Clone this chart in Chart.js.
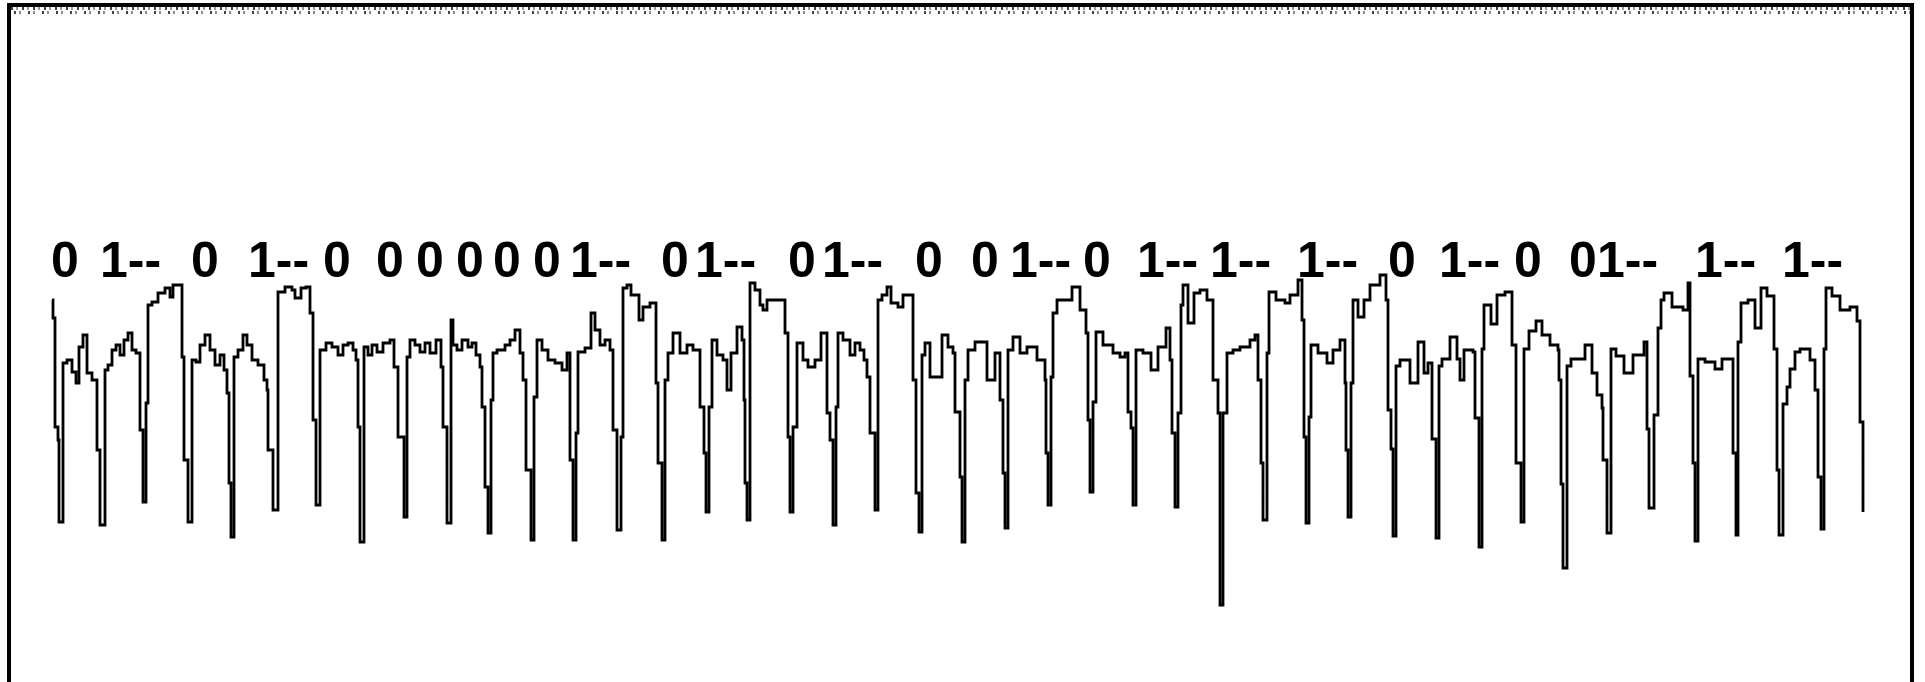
<!DOCTYPE html>
<html>
<head>
<meta charset="utf-8">
<script src="https://cdn.jsdelivr.net/npm/chart.js@4"></script>
<style>
  body { margin: 0; background: #fff; overflow: hidden; }
  #wrap { position: relative; width: 1925px; height: 682px; }
  #chart { position: absolute; left: 0; top: 0; }
  .frame {
    position: absolute; left: 7px; top: 3px; width: 1899px; height: 700px;
    border: 4px solid #000; border-bottom: none;
  }
  .noise {
    position: absolute; left: 11px; top: 7px; width: 1899px; height: 8px;
    background:
      repeating-linear-gradient(90deg, rgba(30,30,30,.85) 0 2px, transparent 2px 5px, rgba(110,110,110,.7) 5px 7px, transparent 7px 11px) 0 0 / 100% 3px no-repeat,
      repeating-linear-gradient(90deg, transparent 0 3px, rgba(20,20,20,.8) 3px 5px, transparent 5px 8px, rgba(90,90,90,.7) 8px 10px, transparent 10px 14px) 0 4px / 100% 3px no-repeat;
  }
</style>
</head>
<body>
<div id="wrap">
  <canvas id="chart" width="1925" height="682"></canvas>
  <div class="frame"></div>
  <div class="noise"></div>
</div>
<script>
// signal trace: sample index and current level (step values)
const time = [
  0, 1, 3, 6, 7, 11, 15, 20, 24, 27, 31, 35, 40,
  45, 48, 53, 56, 60, 64, 68, 72, 76, 80, 84,
  88, 91, 94, 96, 100, 106, 113, 118, 121,
  130, 132, 136, 140, 144, 148, 153, 158, 163, 168, 172, 175,
  177, 179, 182, 186, 191, 195, 200, 206, 212, 215,
  216, 221, 226, 233, 240, 243, 249, 254, 258,
  261, 264, 268, 274, 280, 286, 291, 296, 301, 304,
  306, 308, 312, 316, 320, 325, 331, 338, 342,
  346, 352, 355, 358, 363, 368, 373, 378, 384, 389,
  391, 395, 399, 401, 405, 410, 416, 420, 424, 428,
  430, 433, 436, 439, 441, 445, 453, 458, 463, 468, 471,
  474, 479, 482, 485, 490, 496, 503, 510, 515,
  518, 521, 524, 526, 533, 539, 543, 548, 553, 558,
  561, 565, 569, 571, 575, 579, 587, 591, 598, 604,
  606, 610, 613, 616, 621, 628, 635, 641, 648,
  652, 654, 657, 660, 665, 671, 675, 679, 685, 690, 692,
  693, 695, 698, 703, 708, 711, 715, 733, 736,
  738, 741, 745, 751, 756, 763, 769, 775, 778,
  781, 784, 786, 791, 798, 803, 808, 812, 815, 818,
  823, 826, 830, 835, 839, 846, 851, 861, 864,
  867, 870, 873, 878, 890, 896, 901, 903, 908,
  910, 913, 916, 923, 935, 943, 948, 951,
  953, 956, 961, 968, 975, 985, 993, 994,
  996, 999, 1001, 1005, 1020, 1028, 1034, 1036,
  1038, 1041, 1044, 1051, 1061, 1068, 1073, 1076, 1079,
  1081, 1084, 1091, 1099, 1106, 1114, 1118, 1120,
  1123, 1126, 1129, 1131, 1136, 1142, 1148, 1155, 1161, 1166,
  1168, 1171, 1175, 1181, 1188, 1198, 1203, 1206, 1209,
  1211, 1215, 1217, 1224, 1233, 1238, 1246, 1250, 1252,
  1254, 1257, 1259, 1266, 1275, 1281, 1288, 1293, 1294,
  1296, 1299, 1301, 1306, 1312, 1318, 1328, 1334, 1336, 1339,
  1341, 1344, 1348, 1358, 1366, 1372, 1376, 1380,
  1384, 1387, 1390, 1398, 1405, 1408, 1412, 1421, 1423,
  1427, 1430, 1432, 1439, 1445, 1453, 1460, 1464,
  1469, 1472, 1477, 1484, 1490, 1498, 1506, 1507, 1509,
  1511, 1515, 1519, 1533, 1540, 1545, 1550, 1551,
  1555, 1559, 1564, 1572, 1581, 1592, 1595,
  1597, 1602, 1606, 1609, 1612, 1620, 1631, 1636, 1638, 1641,
  1643, 1646, 1653, 1663, 1670, 1681,
  1684, 1686, 1689, 1696, 1703, 1709, 1715, 1722, 1725,
  1727, 1731, 1735, 1738, 1743, 1748, 1758, 1763, 1766,
  1769, 1772, 1774, 1780, 1788, 1798, 1805, 1808, 1811
];
const current = [
  300, 282, 173, 160, 78, 237, 240, 228, 217, 253, 265, 227, 220,
  150, 75, 230, 235, 250, 255, 245, 260, 267, 250, 247,
  170, 98, 197, 295, 298, 307, 312, 303, 315,
  243, 140, 78, 240, 238, 255, 265, 250, 235, 245, 230, 207,
  117, 63, 243, 250, 265, 255, 240, 235, 220, 210,
  150, 90, 308, 313, 310, 302, 312, 313, 287,
  180, 95, 250, 257, 253, 245, 255, 257, 250, 240,
  173, 58, 253, 245, 255, 248, 257, 260, 233,
  163, 83, 243, 260, 255, 248, 257, 247, 260, 233,
  173, 77, 280, 255, 250, 260, 253, 257, 245, 233,
  193, 113, 67, 200, 247, 250, 255, 260, 270, 247, 220,
  130, 60, 203, 260, 250, 240, 237, 230, 247,
  140, 60, 167, 248, 252, 287, 270, 255, 260, 250,
  170, 70, 163, 312, 315, 305, 280, 293, 297, 217,
  137, 60, 220, 247, 267, 247, 255, 250, 193,
  147, 88, 193, 260, 245, 240, 210, 247, 273, 260, 200,
  117, 80, 317, 310, 295, 290, 300, 267, 163,
  88, 173, 257, 240, 233, 240, 267, 187, 160,
  75, 193, 267, 260, 245, 257, 250, 240, 223, 167,
  90, 300, 305, 313, 297, 293, 305, 220, 107,
  68, 245, 257, 223, 265, 253, 247, 188, 123,
  58, 220, 250, 258, 220, 247, 200, 127,
  72, 250, 263, 247, 253, 240, 220, 147,
  95, 223, 287, 300, 313, 290, 267, 180,
  108, 198, 268, 255, 247, 243, 247, 188, 172,
  95, 250, 247, 230, 253, 272, 240, 167,
  93, 187, 295, 315, 277, 307, 310, 300, 220, 187,
  -5, 187, 247, 250, 253, 260, 265, 220, 137,
  80, 247, 308, 300, 297, 305, 320, 280, 163,
  77, 183, 255, 247, 237, 250, 260, 217, 150,
  83, 217, 300, 283, 300, 315, 325, 300, 190, 151,
  64, 234, 240, 217, 258, 227, 237, 161,
  62, 234, 241, 263, 241, 220, 250, 248, 182,
  53, 251, 295, 276, 305, 308, 255, 137,
  78, 251, 269, 279, 265, 255, 250, 220, 116,
  32, 234, 241, 255, 227, 205, 192, 140,
  67, 251, 244, 227, 245, 258, 171,
  92, 185, 272, 300, 307, 293, 290, 317, 224, 137,
  59, 241, 238, 231, 241, 147,
  65, 258, 297, 300, 272, 312, 304, 251, 130,
  65, 196, 213, 231, 248, 251, 240, 210, 123,
  71, 251, 312, 304, 290, 293, 279, 178, 88
];

// annotation tokens above the trace and where they start
const tokens = [
  "0", "1--", "0", "1--", "0", "0", "0", "0", "0", "0",
  "1--", "0", "1--", "0", "1--", "0", "0", "1--", "0", "1--",
  "1--", "1--", "0", "1--", "0", "0", "1--", "1--", "1--"
];
const tokenTime = [
  -1, 48, 139, 196, 271, 324, 364, 404, 441, 481,
  518, 609, 643, 736, 770, 863, 919, 958, 1031, 1085,
  1158, 1245, 1336, 1387, 1462, 1517, 1545, 1643, 1730
];
const tokenLevel = 323;

const tokenPlugin = {
  id: "tokens",
  afterDatasetsDraw(chart) {
    const { ctx, scales } = chart;
    ctx.save();
    ctx.fillStyle = "#000";
    ctx.font = "bold 50px 'Liberation Sans', Arial, sans-serif";
    ctx.textAlign = "left";
    ctx.textBaseline = "alphabetic";
    tokens.forEach((tok, i) => {
      ctx.fillText(tok, scales.x.getPixelForValue(tokenTime[i]),
                   scales.y.getPixelForValue(tokenLevel));
    });
    ctx.restore();
  }
};

new Chart(document.getElementById("chart"), {
  type: "line",
  data: {
    datasets: [{
      data: time.map((t, i) => ({ x: t, y: current[i] })),
      borderColor: "#000",
      borderWidth: 2.8,
      pointRadius: 0,
      stepped: true,
      fill: false,
    }],
  },
  options: {
    responsive: false,
    animation: false,
    layout: { padding: 0 },
    plugins: { legend: { display: false }, tooltip: { enabled: false } },
    scales: {
      x: { type: "linear", min: -52, max: 1873, display: false },
      y: { min: -82, max: 600, display: false },
    },
  },
  plugins: [tokenPlugin],
});
</script>
</body>
</html>
